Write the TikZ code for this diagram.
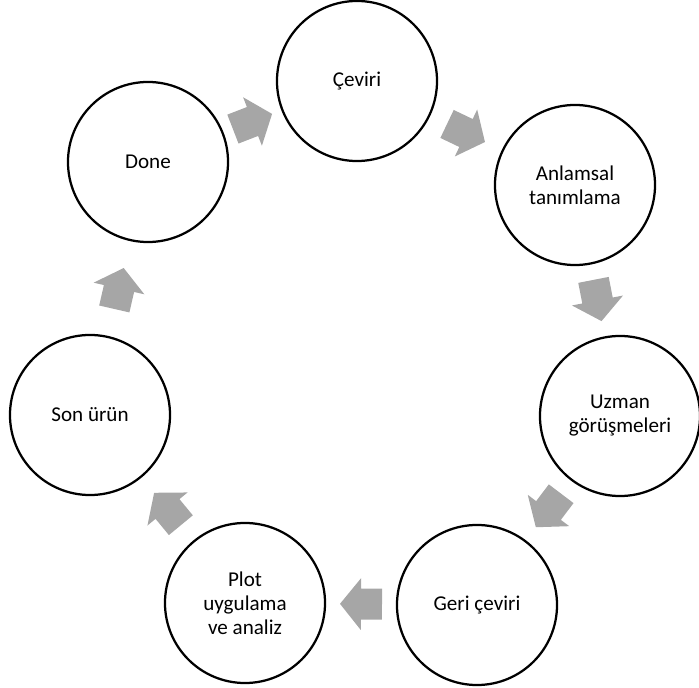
\documentclass[tikz,border=0pt]{standalone}
\usepackage{fontspec}
\setmainfont{Carlito}
\usetikzlibrary{positioning}
\definecolor{arrowgray}{HTML}{A6A6A6}
\tikzset{
  stage/.style={circle, draw=black, line width=1.6pt, minimum size=4cm, inner sep=0pt,
    align=center, font=\fontsize{15}{17}\selectfont},
  pics/cyclearrow/.style={code={
    \fill[arrowgray] (-21,-15.5) -- (0,-15.5) -- (0,-26) -- (21,0) -- (0,26) -- (0,15.5) -- (-21,15.5) -- cycle;
  }}
}
\begin{document}
\begin{tikzpicture}[x=0.025cm, y=-0.025cm]
			\useasboundingbox (0,0) rectangle (699,688);
			\node[stage] (ceviri) at (357, 81) {Çeviri};
			\node[stage] (anlamsal) at (575, 185) {Anlamsal\\tanımlama};
			\node[stage] (uzman) at (620, 416) {Uzman\\görüşmeleri};
			\node[stage] (geri) at (477, 605) {Geri çeviri};
			\node[stage] (plot) at (245, 603) {Plot\\uygulama\\ve analiz};
			\node[stage] (son) at (90, 415) {Son ürün};
			\node[stage] (done) at (148, 162) {Done};
			\foreach \a/\b in {ceviri/anlamsal, anlamsal/uzman, uzman/geri, geri/plot, plot/son, son/done, done/ceviri}
				\path (\a) -- (\b) pic[midway, sloped, allow upside down] {cyclearrow};
		\end{tikzpicture}
\end{document}
